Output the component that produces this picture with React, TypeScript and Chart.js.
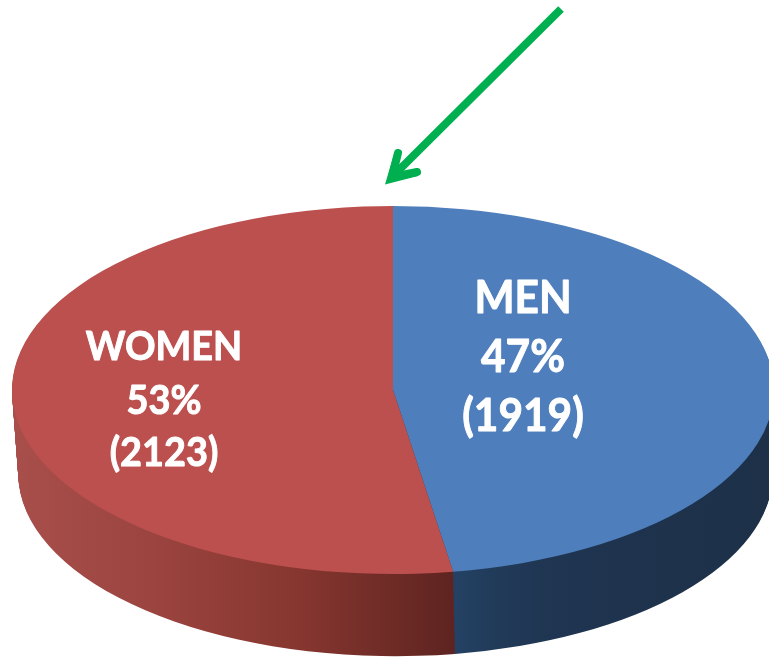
import React, { useEffect, useRef } from "react";
import { Chart, registerables } from "chart.js";

Chart.register(...registerables);

const categories = ["MEN", "WOMEN"];
const counts = [1919, 2123];
const percentLabels = ["47%", "53%"];
const countLabels = ["(1919)", "(2123)"];

const W = 769;
const H = 657;
const CX = 393;
const CY = 390;
const RX = 381;
const RY = 184;
const SQUASH = RY / RX;
const DEPTH = 84;
const TAPER = 0.01;

const topColors = ["#4F7EBC", "#BC504E"];
const wallStops = [
  [[458, "#244163"], [500, "#203A58"], [570, "#1F3450"], [769, "#1D3048"]],
  [[12, "#A84F4C"], [150, "#9C4440"], [300, "#86362F"], [458, "#5D2320"]],
] as const;

const labelSpec = [
  { x: 523, size: 42, baselines: [313, 372, 431] },
  { x: 164, size: 37.5, baselines: [360, 414, 466] },
];

const pie3d = {
  id: "pie3d",
  beforeDatasetsDraw(chart: any) {
    const { ctx } = chart;
    const arcs = chart.getDatasetMeta(0).data;
    const grads = wallStops.map((stops) => {
      const g = ctx.createLinearGradient(stops[0][0], 0, stops[stops.length - 1][0], 0);
      const a = stops[0][0];
      const b = stops[stops.length - 1][0];
      stops.forEach(([x, c]: any) => g.addColorStop((x - a) / (b - a), c));
      return g;
    });
    for (let d = DEPTH; d >= 1; d--) {
      arcs.forEach((arc: any, i: number) => {
        const { x, y, startAngle, endAngle, outerRadius } = arc.getProps(
          ["x", "y", "startAngle", "endAngle", "outerRadius"],
          true
        );
        const r = outerRadius * (1 - (TAPER * d) / DEPTH);
        ctx.save();
        ctx.translate(x + d * 0.03, y + d);
        ctx.scale(1, SQUASH);
        ctx.beginPath();
        ctx.moveTo(0, 0);
        ctx.arc(0, 0, r, startAngle, endAngle);
        ctx.closePath();
        ctx.restore();
        ctx.fillStyle = grads[i];
        ctx.fill();
      });
    }
    ctx.save();
    ctx.translate(CX, CY);
    ctx.scale(1, SQUASH);
    ctx.translate(-CX, -CY);
  },
  afterDatasetsDraw(chart: any) {
    chart.ctx.restore();
  },
  afterDraw(chart: any) {
    const { ctx } = chart;
    ctx.save();
    ctx.fillStyle = "#FFFFFF";
    ctx.strokeStyle = "#FFFFFF";
    ctx.lineWidth = 0.9;
    ctx.lineJoin = "round";
    ctx.textAlign = "center";
    ctx.textBaseline = "alphabetic";
    categories.forEach((name, i) => {
      const s = labelSpec[i];
      ctx.font = `bold ${s.size}px Lato, "Open Sans", sans-serif`;
      [name, percentLabels[i], countLabels[i]].forEach((t, j) => {
        ctx.save();
        ctx.translate(s.x, s.baselines[j]);
        ctx.scale(1.01, 1.08);
        ctx.fillText(t, 0, 0);
        ctx.strokeText(t, 0, 0);
        ctx.restore();
      });
    });
    // green arrow pointing at the start of the first slice
    ctx.strokeStyle = "#00B050";
    ctx.fillStyle = "#00B050";
    ctx.lineWidth = 8;
    ctx.lineCap = "butt";
    ctx.beginPath();
    ctx.moveTo(561, 9);
    ctx.lineTo(398, 171);
    ctx.stroke();
    ctx.lineWidth = 8;
    ctx.lineCap = "round";
    ctx.lineJoin = "miter";
    ctx.beginPath();
    ctx.moveTo(398, 153);
    ctx.lineTo(392, 177);
    ctx.lineTo(417, 172);
    ctx.stroke();
    ctx.beginPath();
    ctx.moveTo(385, 184.5);
    ctx.lineTo(394.5, 152);
    ctx.lineTo(399, 172);
    ctx.lineTo(418, 176);
    ctx.closePath();
    ctx.fill();
    ctx.restore();
  },
};

export default function App() {
  const ref = useRef<HTMLCanvasElement>(null);
  useEffect(() => {
    const chart = new Chart(ref.current!, {
      type: "pie",
      data: {
        labels: categories,
        datasets: [
          {
            data: counts,
            backgroundColor: topColors,
            borderWidth: 0,
            clip: false as any,
          },
        ],
      },
      options: {
        responsive: false,
        animation: false,
        radius: RX,
        rotation: 0,
        layout: { padding: { left: Math.max(2 * CX - W, 0), right: Math.max(W - 2 * CX, 0), top: Math.max(2 * CY - H, 0), bottom: Math.max(H - 2 * CY, 0) } },
        plugins: { legend: { display: false }, tooltip: { enabled: false }, title: { display: false } },
      } as any,
      plugins: [pie3d],
    });
    return () => chart.destroy();
  }, []);
  return (
    <div style={{ position: "absolute", left: 0, top: 0, width: W, height: H, overflow: "hidden", background: "#fff" }}>
      <canvas ref={ref} width={W} height={H} style={{ display: "block" }} />
    </div>
  );
}
